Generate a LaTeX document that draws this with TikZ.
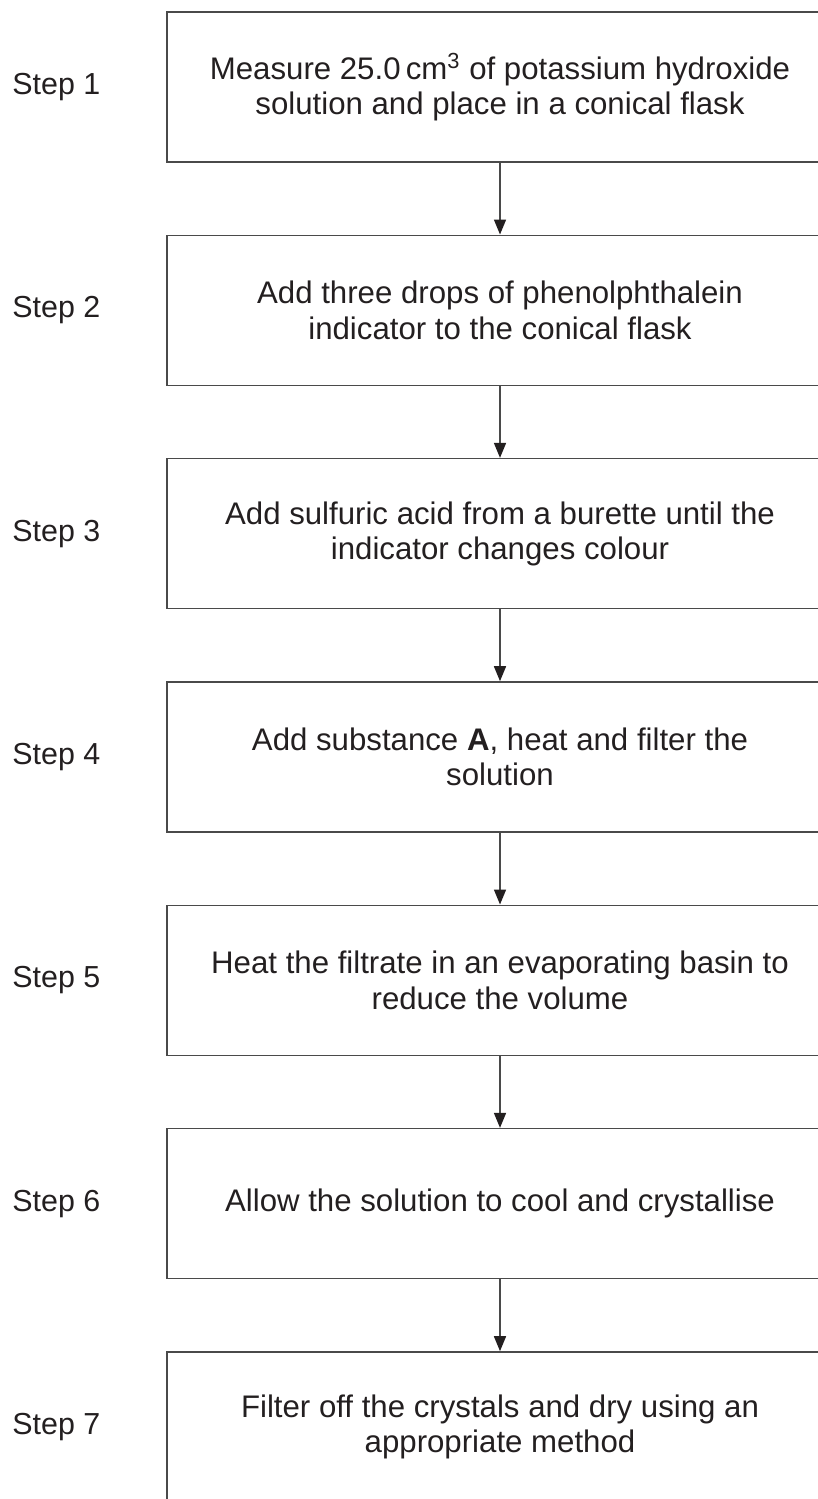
\documentclass[tikz,border=0pt]{standalone}
\usepackage{fontspec}
\setmainfont{Liberation Sans}
\usetikzlibrary{arrows.meta}

\definecolor{linegray}{HTML}{4A4A4A}
\definecolor{inkblack}{HTML}{231F20}

\tikzset{
  stepbox/.style={draw=linegray, line width=0.8pt, minimum width=333pt,
    minimum height=75pt, inner sep=0pt, align=center, text=inkblack,
    font=\fontsize{15.6}{17.6}\selectfont},
  steplabel/.style={anchor=west, inner sep=0pt, text=inkblack,
    font=\fontsize{15.2}{17.6}\selectfont},
  flowarrow/.style={draw=linegray, line width=0.8pt,
    -{Triangle[length=7.5pt, width=6pt, color=inkblack]}}
}

\begin{document}
\begin{tikzpicture}[x=0.5pt, y=-0.5pt]
  \useasboundingbox (0,0) rectangle (818,1499);
  \clip (0,0) rectangle (818,1499);
  %Kästen
  \foreach \i/\txt in {
      1/{Measure 25.0\,cm\textsuperscript{3} of potassium hydroxide\\solution and place in a conical flask},
      2/{Add three drops of phenolphthalein\\indicator to the conical flask},
      3/{Add sulfuric acid from a burette until the\\indicator changes colour},
      4/{Add substance \textbf{A}, heat and filter the\\solution},
      5/{Heat the filtrate in an evaporating basin to\\reduce the volume},
      6/{Allow the solution to cool and crystallise},
      7/{Filter off the crystals and dry using an\\appropriate method}} {
    \node[stepbox] (box\i) at (500, {87+223.33*(\i-1)}) {\txt};
    \node[steplabel] (step\i) at (12, {87+223.33*(\i-1)}) {Step \i};
  }
  %Pfeile
  \foreach \i [evaluate=\i as \j using int(\i+1)] in {1,...,6} {
    \draw[flowarrow] (box\i.south) -- (box\j.north);
  }
\end{tikzpicture}
\end{document}
